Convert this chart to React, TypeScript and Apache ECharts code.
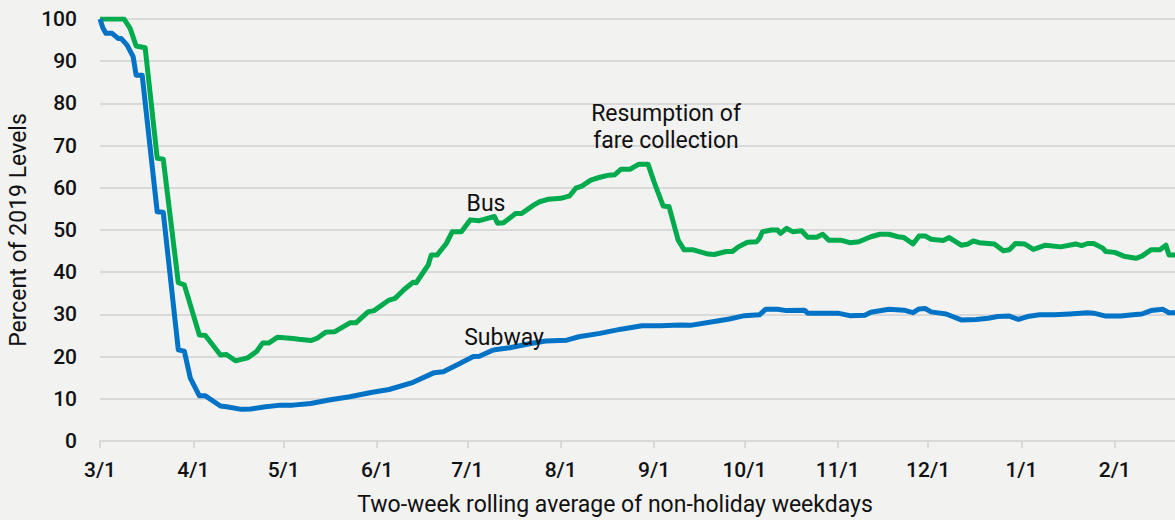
import React, { useEffect, useRef } from "react";
import * as echarts from "echarts";

const busDates = [
  "2020-03-01","2020-03-09","2020-03-11","2020-03-13","2020-03-16","2020-03-20","2020-03-22","2020-03-27","2020-03-29",
  "2020-04-03","2020-04-05","2020-04-10","2020-04-12","2020-04-15","2020-04-19","2020-04-22","2020-04-24","2020-04-26","2020-04-29",
  "2020-05-04","2020-05-06","2020-05-10","2020-05-12","2020-05-15","2020-05-18","2020-05-23","2020-05-25","2020-05-29","2020-05-31",
  "2020-06-05","2020-06-07","2020-06-10","2020-06-13","2020-06-14","2020-06-18","2020-06-19","2020-06-21","2020-06-24","2020-06-26","2020-06-29",
  "2020-07-02","2020-07-05","2020-07-08","2020-07-10","2020-07-11","2020-07-13","2020-07-17","2020-07-19","2020-07-23","2020-07-25","2020-07-28",
  "2020-08-01","2020-08-04","2020-08-06","2020-08-08","2020-08-11","2020-08-14","2020-08-17","2020-08-19","2020-08-21","2020-08-24","2020-08-27","2020-08-30",
  "2020-09-01","2020-09-04","2020-09-06","2020-09-09","2020-09-11","2020-09-14","2020-09-19","2020-09-21","2020-09-25","2020-09-27","2020-09-29",
  "2020-10-02","2020-10-05","2020-10-06","2020-10-07","2020-10-10","2020-10-12","2020-10-13","2020-10-15","2020-10-17","2020-10-20","2020-10-22","2020-10-25","2020-10-27","2020-10-29",
  "2020-11-02","2020-11-05","2020-11-08","2020-11-12","2020-11-15","2020-11-18","2020-11-21","2020-11-23","2020-11-26","2020-11-28","2020-11-30",
  "2020-12-02","2020-12-06","2020-12-08","2020-12-12","2020-12-14","2020-12-16","2020-12-18","2020-12-23","2020-12-26","2020-12-28","2020-12-30",
  "2021-01-02","2021-01-05","2021-01-09","2021-01-14","2021-01-19","2021-01-21","2021-01-23","2021-01-25","2021-01-28","2021-01-29",
  "2021-02-01","2021-02-04","2021-02-08","2021-02-10","2021-02-13","2021-02-16","2021-02-18","2021-02-19","2021-02-21"
];
const busValues = [
  100,100,97.8,93.6,93.2,67,66.8,37.5,37,
  25.1,25,20.4,20.5,19.0,19.7,21.2,23.2,23.2,24.6,
  24.3,24.1,23.8,24.3,25.8,25.9,28.0,28.0,30.6,30.9,
  33.4,33.8,35.9,37.6,37.5,41.7,44.1,44.1,46.8,49.6,49.6,
  52.4,52.2,52.8,53.2,51.6,51.7,53.9,53.9,55.9,56.7,57.3,
  57.5,58.1,59.9,60.4,61.8,62.5,63.0,63.1,64.4,64.4,65.6,65.6,
  61.4,55.7,55.5,47.6,45.3,45.3,44.3,44.2,44.9,44.9,46.0,
  47.1,47.2,48.0,49.6,50.0,50.0,49.2,50.4,49.6,49.8,48.3,48.3,49.0,47.6,
  47.6,47.0,47.2,48.4,49.0,49.0,48.4,48.2,46.7,48.6,48.6,
  47.8,47.5,48.2,46.4,46.6,47.4,47.0,46.7,45.1,45.3,46.8,
  46.7,45.4,46.4,46.0,46.7,46.3,46.8,46.8,45.7,44.9,
  44.7,43.8,43.3,43.8,45.3,45.3,46.4,44.1,44.1
];

const subwayDates = [
  "2020-03-01","2020-03-02","2020-03-03","2020-03-05","2020-03-07","2020-03-08","2020-03-10","2020-03-12","2020-03-13","2020-03-15",
  "2020-03-20","2020-03-22","2020-03-27","2020-03-29","2020-03-31",
  "2020-04-03","2020-04-05","2020-04-10","2020-04-12","2020-04-17","2020-04-20","2020-04-25","2020-04-30",
  "2020-05-04","2020-05-10","2020-05-16","2020-05-23","2020-05-30",
  "2020-06-05","2020-06-13","2020-06-20","2020-06-23","2020-06-28",
  "2020-07-03","2020-07-05","2020-07-09","2020-07-10","2020-07-15","2020-07-22","2020-07-27",
  "2020-08-03","2020-08-07","2020-08-14","2020-08-21","2020-08-28",
  "2020-09-03","2020-09-10","2020-09-13","2020-09-21","2020-09-26",
  "2020-10-01","2020-10-06","2020-10-08","2020-10-12","2020-10-15","2020-10-21","2020-10-22","2020-10-27",
  "2020-11-01","2020-11-05","2020-11-10","2020-11-12","2020-11-18","2020-11-23","2020-11-26","2020-11-28","2020-11-30",
  "2020-12-02","2020-12-05","2020-12-07","2020-12-12","2020-12-17","2020-12-21","2020-12-24","2020-12-28","2020-12-31",
  "2021-01-03","2021-01-07","2021-01-12","2021-01-17","2021-01-23","2021-01-25","2021-01-29",
  "2021-02-03","2021-02-07","2021-02-10","2021-02-13","2021-02-17","2021-02-19","2021-02-21"
];
const subwayValues = [
  100,97.8,96.6,96.6,95.4,95.4,93.8,91.1,86.7,86.7,
  54.3,54.2,21.6,21.3,14.9,
  10.7,10.7,8.3,8.1,7.5,7.6,8.1,8.5,
  8.5,8.9,9.7,10.5,11.5,
  12.2,13.9,16.2,16.4,18.2,
  20.0,20.1,21.4,21.6,22.1,23.1,23.7,
  23.9,24.7,25.5,26.5,27.3,
  27.3,27.5,27.4,28.3,28.9,
  29.7,29.9,31.2,31.2,30.9,31.0,30.3,30.3,
  30.3,29.7,29.8,30.5,31.2,31.0,30.4,31.3,31.4,
  30.6,30.3,30.1,28.7,28.8,29.1,29.5,29.6,28.8,
  29.5,29.9,29.9,30.1,30.4,30.3,29.6,
  29.6,29.9,30.1,30.9,31.2,30.4,30.4
];

const yTicks = [0, 10, 20, 30, 40, 50, 60, 70, 80, 90, 100];
const xMin = "2020-03-01";
const xMax = "2021-02-21";

const TEXT = "#111111";
const GRID = "#d9d9d9";
const FONT = "Roboto";

export default function App() {
  const ref = useRef<HTMLDivElement>(null);
  useEffect(() => {
    if (!ref.current) return;
    const chart = echarts.init(ref.current, null, { renderer: "svg" });
    const bus = busDates.map((d, i) => [d, busValues[i]]);
    const subway = subwayDates.map((d, i) => [d, subwayValues[i]]);
    const label = (text: string, x: number, y: number, extra: any = {}) => ({
      type: "text",
      x,
      y,
      z: 100,
      zlevel: 0,
      ...extra,
      style: { text, fill: TEXT, font: `400 23px ${FONT}`, textAlign: "center", textVerticalAlign: "middle" },
    });
    chart.setOption({
      animation: false,
      backgroundColor: "#f2f2f1",
      textStyle: { fontFamily: FONT },
      grid: { left: 100, right: 0, top: 19, bottom: 79, containLabel: false },
      xAxis: {
        type: "time",
        min: xMin,
        max: xMax,
        splitNumber: 12,
        minInterval: 28 * 86400000,
        maxInterval: 31 * 86400000,
        axisLine: { show: true, lineStyle: { color: GRID, width: 2 } },
        axisTick: { show: true, length: 7, lineStyle: { color: GRID, width: 2 } },
        splitLine: { show: false },
        axisLabel: {
          color: TEXT,
          fontSize: 21,
          fontWeight: 500,
          fontFamily: FONT,
          margin: 18,
          hideOverlap: false,
          formatter: (v: number) => {
            const d = new Date(v);
            return `${d.getMonth() + 1}/${d.getDate()}`;
          },
        },
      },
      yAxis: {
        type: "value",
        min: yTicks[0],
        max: yTicks[yTicks.length - 1],
        interval: 10,
        axisLine: { show: false },
        axisTick: { show: false },
        splitLine: { show: true, lineStyle: { color: GRID, width: 2 } },
        axisLabel: { color: TEXT, fontSize: 21, fontWeight: 500, fontFamily: FONT, margin: 23 },
      },
      series: [
        {
          name: "Bus",
          type: "line",
          data: bus,
          showSymbol: false,
          symbol: "none",
          lineStyle: { color: "#00ab4e", width: 5, join: "round" },
          z: 3,
        },
        {
          name: "Subway",
          type: "line",
          data: subway,
          showSymbol: false,
          symbol: "none",
          lineStyle: { color: "#0073c6", width: 5, join: "round" },
          z: 4,
        },
      ],
      graphic: [
        label("Percent of 2019 Levels", 18, 230, { rotation: Math.PI / 2 }),
        label("Two-week rolling average of non-holiday weekdays", 615, 504),
        label("Bus", 486, 203),
        label("Subway", 504, 337),
        label("Resumption of", 666, 113),
        label("fare collection", 666, 140),
      ],
    });
    return () => chart.dispose();
  }, []);
  return (
    <div
      ref={ref}
      style={{ position: "fixed", left: 0, top: 0, width: 1175, height: 520, background: "#f2f2f1" }}
    />
  );
}
